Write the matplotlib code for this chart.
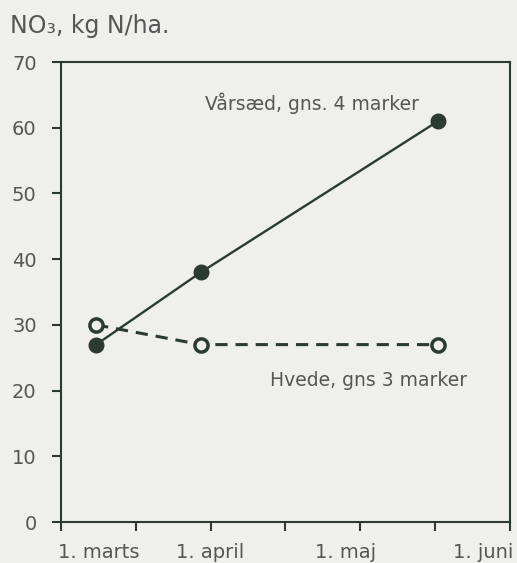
import matplotlib
matplotlib.use("Agg")
import matplotlib.pyplot as plt

# x in axis units: major ticks every unit (0..6), months placed between them
MONTH_POS = [0.5, 2.0, 3.8, 5.64]
MONTH_LABELS = ["1. marts", "1. april", "1. maj", "1. juni"]

VAAR_X = [0.47, 1.87, 5.04]
VAAR_Y = [27.0, 38.0, 61.0]
HVEDE_X = [0.47, 1.87, 5.04]
HVEDE_Y = [30.0, 27.0, 27.0]

BG = "#efefed"
INK = "#2c3b32"
TXT = "#555555"

plt.rcParams["font.family"] = ["DejaVu Sans"]

fig = plt.figure(figsize=(5.17, 5.63), dpi=100, facecolor=BG)
ax = fig.add_axes([0.118, 0.0728, 0.868, 0.817], facecolor=BG)

ax.plot(VAAR_X, VAAR_Y, "-", color=INK, lw=1.7, marker="o", ms=10.5,
        mfc=INK, mec=INK, zorder=3)
ax.plot(HVEDE_X, HVEDE_Y, "--", color=INK, lw=2.2, dashes=(4, 2.6),
        marker="o", ms=9.5, mfc=BG, mec=INK, mew=2.5, zorder=4)

ax.text(1.93, 63.8, "Vårsæd, gns. 4 marker", fontsize=13.5, color=TXT, va="center")
ax.text(2.79, 21.6, "Hvede, gns 3 marker", fontsize=13.5, color=TXT, va="center")

ax.set_xlim(0, 6)
ax.set_ylim(0, 70)
ax.set_yticks(range(0, 71, 10))
ax.xaxis.remove_overlapping_locs = False
ax.set_xticks(range(0, 7))
ax.set_xticklabels([])
ax.set_xticks(MONTH_POS, minor=True)
ax.set_xticklabels(MONTH_LABELS, minor=True)

for s in ax.spines.values():
    s.set_color(INK)
    s.set_linewidth(1.5)

ax.tick_params(axis="y", direction="out", length=6.5, width=1.5, color=INK,
               labelsize=14, labelcolor=TXT, pad=11)
ax.tick_params(axis="x", which="major", direction="out", length=6.5, width=1.5,
               color=INK)
ax.tick_params(axis="x", which="minor", length=0, labelsize=14, labelcolor=TXT,
               pad=15)

fig.text(0.02, 0.953, "NO₃, kg N/ha.", fontsize=17, color=TXT, va="center")

fig.savefig("out.png", dpi=100, facecolor=BG)
